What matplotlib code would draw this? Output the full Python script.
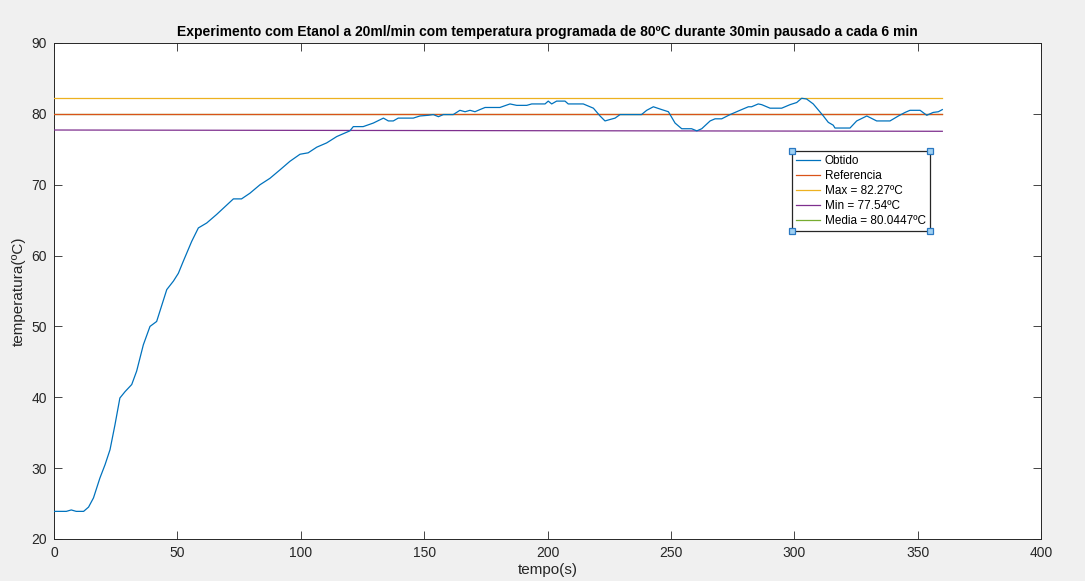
import numpy as np
import matplotlib.pyplot as plt

plt.rcParams['font.family'] = ['Liberation Sans', 'DejaVu Sans']

# leituras do termopar (tempo em s, temperatura em ºC)
tempo = [0, 5, 7, 9, 12, 14, 16, 18.6, 20.7, 22.7, 24.7, 26.7, 28.8, 31.5, 33.5,
         36.2, 38.9, 41.6, 45.7, 48.4, 50.4, 52.4, 55.8, 58.5, 61.9, 65.9, 72.7,
         76, 79.4, 83.5, 87.5, 91.6, 95.6, 99.7, 103, 106.5, 110.5, 114.6, 119.9,
         121.3, 125.3, 129.4, 133.5, 135.5, 137.5, 139.5, 145.6, 148.3, 151.7,
         153.7, 155.8, 157.8, 161.8, 164.5, 166.6, 168.6, 170.6, 172.6, 174.7,
         180.7, 184.8, 187.5, 191.6, 193.6, 199, 200.3, 201.7, 203.7, 207.1,
         208.4, 214.5, 218.6, 221.3, 223.3, 225.3, 227.4, 229.4, 238.1, 240.2,
         242.9, 246.3, 249, 251.7, 254.4, 258.4, 260.5, 262.5, 265.9, 267.9,
         270.6, 274, 278, 281.4, 282.7, 285.4, 286.8, 290.2, 294.9, 298.3, 301,
         303, 305, 307.7, 311.8, 313.8, 315.8, 316.5, 322.6, 325.3, 329.4, 333.4,
         338.8, 342.2, 344.9, 346.9, 351, 353.7, 356.3, 358.4, 360]
temperatura = [23.9, 23.9, 24.1, 23.9, 23.9, 24.5, 25.8, 28.6, 30.5, 32.6, 36.1,
               39.9, 40.8, 41.8, 43.7, 47.4, 50.0, 50.7, 55.2, 56.4, 57.5, 59.2,
               62.0, 63.9, 64.6, 65.8, 68.0, 68.0, 68.8, 70.0, 70.9, 72.1, 73.3,
               74.3, 74.5, 75.3, 75.9, 76.8, 77.6, 78.2, 78.2, 78.7, 79.4, 79.0,
               79.0, 79.4, 79.4, 79.7, 79.8, 79.9, 79.6, 79.9, 79.9, 80.5, 80.3,
               80.5, 80.3, 80.6, 80.9, 80.9, 81.4, 81.2, 81.2, 81.4, 81.4, 81.8,
               81.4, 81.8, 81.8, 81.4, 81.4, 80.8, 79.7, 79.0, 79.2, 79.4, 79.9,
               79.9, 80.5, 81.0, 80.6, 80.3, 78.7, 77.9, 77.9, 77.6, 77.9, 79.0,
               79.3, 79.3, 79.9, 80.5, 81.0, 81.0, 81.4, 81.3, 80.8, 80.8, 81.3,
               81.6, 82.2, 82.1, 81.4, 79.7, 78.8, 78.4, 78.0, 78.0, 79.0, 79.7,
               79.0, 79.0, 79.7, 80.2, 80.5, 80.5, 79.8, 80.2, 80.3, 80.6]

referencia = 80
maximo = 82.27
minimo = [77.72, 77.54]   # inicio e fim da linha de minimo
media = 80.0447
t_linhas = [0, 360]

cores = ['#0072BD', '#D95319', '#EDB120', '#7E2F8E', '#77AC30']

fig = plt.figure(figsize=(10.85, 5.81), dpi=100, facecolor='#f0f0f0')
ax = fig.add_axes([54 / 1085, 1 - 539 / 581, 987 / 1085, 496 / 581])
ax.set_facecolor('white')

ax.plot(tempo, temperatura, color=cores[0], lw=0.9, label='Obtido', zorder=5)
ax.plot(t_linhas, [referencia] * 2, color=cores[1], lw=0.9, label='Referencia', zorder=4)
ax.plot(t_linhas, [maximo] * 2, color=cores[2], lw=0.9, label='Max = 82.27ºC', zorder=4)
ax.plot(t_linhas, minimo, color=cores[3], lw=0.9, label='Min = 77.54ºC', zorder=4)
ax.plot(t_linhas, [media] * 2, color=cores[4], lw=0.9, label='Media = 80.0447ºC', zorder=3)

ax.set_xlim(0, 400)
ax.set_ylim(20, 90)
ax.set_xticks(np.arange(0, 401, 50))
ax.set_yticks(np.arange(20, 91, 10))
ax.tick_params(direction='in', length=6, width=0.6, colors='#262626',
               labelsize=10, top=True, right=True, pad=5)
for s in ax.spines.values():
    s.set_color('#262626')
    s.set_linewidth(0.7)

ax.set_xlabel('tempo(s)', fontsize=11, color='#262626', labelpad=2)
ax.set_ylabel('temperatura(ºC)', fontsize=11, color='#262626', labelpad=4)
ax.set_title('Experimento com Etanol a 20ml/min com temperatura programada de 80ºC '
             'durante 30min pausado a cada 6 min',
             fontsize=10, fontweight='bold', color='black', pad=5)

leg = ax.legend(loc='upper left', bbox_to_anchor=(0.748, 0.782), fontsize=8.5,
                frameon=True, fancybox=False, framealpha=1, edgecolor='#262626',
                handlelength=2.0, handletextpad=0.4, labelspacing=0.25,
                borderpad=0.35, borderaxespad=0)
leg.get_frame().set_linewidth(0.9)

# marcadores de selecao nos cantos da legenda
fig.canvas.draw()
bb = leg.get_window_extent().transformed(fig.transFigure.inverted())
cx = [bb.x0, bb.x1, bb.x0, bb.x1]
cy = [bb.y0, bb.y0, bb.y1, bb.y1]
fig.add_artist(plt.Line2D(cx, cy, transform=fig.transFigure, ls='none',
                          marker='s', ms=5, mfc='#9fd0f2', mec='#2b78c2', mew=0.9,
                          zorder=10))

fig.savefig('out.png', dpi=100, facecolor=fig.get_facecolor())
